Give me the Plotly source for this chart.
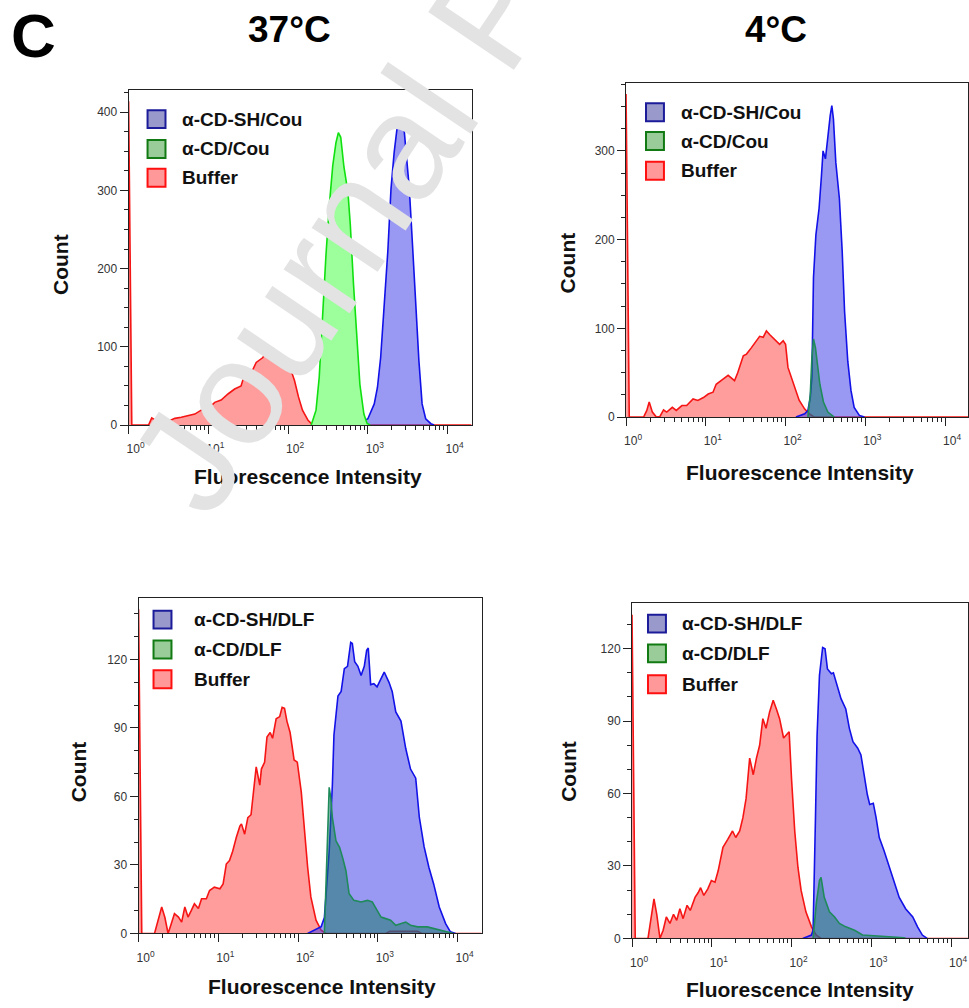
import math
import plotly.graph_objects as go

W, H = 969, 1008

# ---------------- data (x = log10 fluorescence intensity, y = count) ----------------
# Panel 1: 37°C, coumarin
p1_buffer_x = [0.0, 0.04, 0.25, 0.29, 0.34, 0.39, 0.45, 0.52, 0.58, 0.66, 0.75, 0.83, 0.91, 1.0, 1.08, 1.16,
               1.25, 1.33, 1.41, 1.475, 1.54, 1.6, 1.68, 1.75, 1.81, 1.87, 1.93, 1.99, 2.04, 2.08, 2.13, 2.18,
               2.25, 2.31, 4.3]
p1_buffer_y = [414, 0, 0, 9, 6, 0, 2.5, 6, 8.5, 10, 12, 14, 19, 21, 29, 32, 40, 46, 50, 72, 67, 80, 86, 95, 98,
               93, 84, 74, 69, 57, 36, 19, 6, 0, 0]
p1_cd_x = [2.29, 2.35, 2.39, 2.43, 2.475, 2.52, 2.56, 2.6, 2.63, 2.66, 2.70, 2.75, 2.78, 2.82, 2.86, 2.90, 2.95,
           2.99, 3.03]
p1_cd_y = [0, 19, 61, 137, 218, 285, 332, 361, 374, 368, 330, 298, 256, 180, 112, 52, 14, 2, 0]
p1_sh_x = [2.55, 2.62, 2.79, 2.95, 3.0, 3.04, 3.08, 3.12, 3.16, 3.2, 3.25, 3.29, 3.33, 3.37, 3.41, 3.45, 3.475,
           3.52, 3.56, 3.6, 3.64, 3.68, 3.725, 3.79, 3.83]
p1_sh_y = [0, 1.7, 2.5, 5, 8, 16.5, 27, 48, 86, 146, 222, 302, 349, 383, 393, 383, 357, 302, 230, 154, 82, 27, 8,
           1.7, 0]

# Panel 2: 4°C, coumarin
p2_buffer_x = [0.0, 0.04, 0.22, 0.26, 0.29, 0.33, 0.38, 0.425, 0.47, 0.51, 0.58, 0.63, 0.70, 0.76, 0.84, 0.90,
               0.97, 1.03, 1.09, 1.13, 1.22, 1.28, 1.36, 1.40, 1.47, 1.51, 1.57, 1.63, 1.675, 1.72, 1.76, 1.80,
               1.86, 1.925, 1.97, 2.0, 2.03, 2.07, 2.11, 2.17, 2.24, 2.3, 2.36, 4.29]
p2_buffer_y = [364, 0, 0, 7.5, 17, 5.6, 0, 0.7, 8, 5.6, 11, 7.5, 13, 13, 20.5, 18.7, 22, 26, 28, 37, 43, 47, 41,
               50, 69, 71, 78, 86, 91, 90, 97, 93, 88, 82, 86, 82, 56, 45, 34, 19, 9, 3.7, 0, 0]
p2_cd_x = [2.28, 2.31, 2.33, 2.35, 2.375, 2.40, 2.43, 2.475, 2.53, 2.61]
p2_cd_y = [0, 26, 67, 88, 78, 56, 37, 17, 5.6, 0]
p2_sh_x = [2.13, 2.24, 2.28, 2.31, 2.33, 2.34, 2.35, 2.38, 2.42, 2.45, 2.47, 2.50, 2.53, 2.56, 2.58, 2.60, 2.63,
           2.675, 2.71, 2.74, 2.78, 2.82, 2.86, 2.925, 2.99]
p2_sh_y = [0, 3.7, 7.5, 22, 45, 86, 157, 205, 235, 272, 300, 291, 317, 340, 351, 336, 287, 246, 187, 119, 63, 30,
           11, 1.9, 0]

# Panel 3: 37°C, DLF
p3_buffer_x = [0.0, 0.04, 0.2, 0.25, 0.29, 0.33, 0.37, 0.41, 0.45, 0.5, 0.54, 0.58, 0.62, 0.66, 0.70, 0.75, 0.79,
               0.85, 0.89, 0.95, 1.02, 1.06, 1.1, 1.14, 1.18, 1.225, 1.27, 1.29, 1.33, 1.37, 1.41, 1.45, 1.475,
               1.52, 1.54, 1.58, 1.61, 1.65, 1.68, 1.725, 1.77, 1.8, 1.83, 1.86, 1.9, 1.95, 1.99, 2.04, 2.08,
               2.12, 2.16, 2.225, 2.29, 2.35, 3.1, 3.15, 3.3, 3.5, 3.55, 4.3]
p3_buffer_y = [142, 0, 0, 7, 11.6, 7, 0, 4.3, 8.7, 7.2, 5, 11.6, 7.2, 10, 13, 10.9, 15.2, 15.2, 18.8, 20.3, 19.6,
               21.7, 30.4, 31.9, 36, 42, 47, 48, 43.5, 50.7, 52, 65, 73, 65, 72, 75, 86, 88, 85.5, 94, 95, 99,
               98.6, 93, 88, 76, 75, 62, 45, 29, 16, 5.8, 1.4, 0, 0, 1, 1, 1, 0, 0]
p3_cd_x = [2.33, 2.36, 2.39, 2.41, 2.43, 2.475, 2.52, 2.56, 2.6, 2.64, 2.70, 2.79, 2.87, 2.93, 2.975, 3.04, 3.1,
           3.16, 3.225, 3.29, 3.35, 3.41, 3.5, 3.62, 3.79, 3.89, 3.95]
p3_cd_y = [0, 29, 64, 59.4, 50.7, 40.6, 37.7, 33, 27.5, 17.4, 14.5, 13.8, 14.5, 13.8, 10.9, 7.2, 6.5, 5.8, 3.6,
           4.3, 5, 3.6, 2.9, 2.9, 1.4, 0.7, 0]
p3_sh_x = [2.12, 2.29, 2.33, 2.36, 2.39, 2.43, 2.45, 2.5, 2.54, 2.58, 2.62, 2.66, 2.68, 2.71, 2.75, 2.79, 2.83,
           2.86, 2.88, 2.91, 2.95, 2.99, 3.04, 3.08, 3.14, 3.18, 3.225, 3.29, 3.35, 3.41, 3.475, 3.52, 3.58,
           3.64, 3.70, 3.77, 3.85, 3.91, 3.975]
p3_sh_y = [0, 3, 7, 22, 36, 65, 87, 104, 106, 116, 117, 127.5, 127, 119, 117, 113, 117, 124, 125, 109, 109.4,
           108, 111.6, 114.5, 110, 106, 97, 93, 81, 72, 68, 51, 38, 29, 21.7, 11.6, 4.3, 0.7, 0]

# Panel 4: 4°C, DLF
p4_buffer_x = [0.0, 0.04, 0.2, 0.245, 0.275, 0.31, 0.35, 0.39, 0.43, 0.475, 0.52, 0.56, 0.6, 0.64, 0.69, 0.73,
               0.79, 0.83, 0.86, 0.9, 0.95, 0.995, 1.04, 1.08, 1.14, 1.2, 1.26, 1.3, 1.35, 1.39, 1.43, 1.475,
               1.52, 1.56, 1.6, 1.64, 1.68, 1.725, 1.77, 1.81, 1.85, 1.9, 1.93, 1.97, 2.0, 2.04, 2.08, 2.12,
               2.18, 2.25, 2.31, 2.37, 4.21]
p4_buffer_y = [134, 0, 0, 10, 16.4, 10, 0, 3.4, 8.9, 6.2, 10, 7.5, 12.3, 8.2, 13.7, 11.6, 17, 19, 21, 17.8,
               20.5, 24, 23.3, 28, 37.7, 41, 44.5, 41.8, 44.5, 50, 58, 74.7, 67.8, 74.7, 80, 91, 87, 93.8, 98.6,
               95, 91, 83, 84, 85.6, 66, 44.5, 29.5, 19.9, 11, 4.8, 1.4, 0, 0]
p4_cd_x = [2.27, 2.31, 2.35, 2.37, 2.41, 2.475, 2.54, 2.6, 2.68, 2.79, 2.89, 3.1, 3.31, 3.41, 3.43]
p4_cd_y = [0, 14.4, 24, 25.3, 17, 11, 8.9, 6.2, 4.8, 3.4, 1.4, 1, 0.7, 0.3, 0]
p4_sh_x = [2.14, 2.25, 2.27, 2.28, 2.3, 2.32, 2.35, 2.39, 2.42, 2.45, 2.5, 2.525, 2.57, 2.62, 2.68, 2.725, 2.77,
           2.83, 2.87, 2.91, 2.95, 2.98, 3.025, 3.06, 3.1, 3.16, 3.225, 3.29, 3.35, 3.43, 3.52, 3.58, 3.64, 3.7]
p4_sh_y = [0, 1.4, 3.4, 15.8, 50, 84, 109, 120.5, 120, 111.6, 109.6, 110, 104.8, 99.3, 95, 87, 81.5, 78.8, 76,
           67.8, 59.6, 55.5, 56, 50, 41.8, 36.3, 29.5, 22.6, 17, 12.3, 8.9, 4.8, 1.4, 0]

legend_cou = ["α-CD-SH/Cou", "α-CD/Cou", "Buffer"]
legend_dlf = ["α-CD-SH/DLF", "α-CD/DLF", "Buffer"]
col_titles = ["37°C", "4°C"]
panel_letter = "C"
x_tick_labels = ["10<sup>0</sup>", "10<sup>1</sup>", "10<sup>2</sup>", "10<sup>3</sup>", "10<sup>4</sup>"]

# ---------------- styling ----------------
FONT = "Liberation Sans, Arial, sans-serif"
RED_LINE, RED_FILL = "#f51515", "#ff9c9c"
BLUE_LINE, BLUE_FILL = "#1212e8", "rgba(60,60,232,0.52)"
GREEN1_LINE, GREEN1_FILL = "#10e010", "#9cff9c"
GREEN_LINE, GREEN_FILL = "#1f8a5a", "rgba(20,120,100,0.5)"


def px(x):
    return x / W


def py(y):
    return 1 - y / H


panels = [
    dict(dom=(127, 471, 91, 428), xmax=4.3, ymax=428, yt=[0, 100, 200, 300, 400], ym=25,
         data=[(p1_buffer_x, p1_buffer_y, RED_LINE, RED_FILL),
               (p1_sh_x, p1_sh_y, BLUE_LINE, BLUE_FILL),
               (p1_cd_x, p1_cd_y, GREEN1_LINE, GREEN1_FILL)],
         leg=legend_cou, sw=(146, [120, 150, 179]), tx=179,
         count=(58, 266), fi=(307, 480)),
    dict(dom=(626, 969, 84, 420), xmax=343 / 80, ymax=376, yt=[0, 100, 200, 300], ym=25,
         data=[(p2_buffer_x, p2_buffer_y, RED_LINE, RED_FILL),
               (p2_sh_x, p2_sh_y, BLUE_LINE, BLUE_FILL),
               (p2_cd_x, p2_cd_y, GREEN_LINE, GREEN_FILL)],
         leg=legend_cou, sw=(646, [113, 142, 172]), tx=679,
         count=(567, 265), fi=(800, 476)),
    dict(dom=(137, 481, 602, 940), xmax=4.3, ymax=147, yt=[0, 30, 60, 90, 120], ym=10,
         data=[(p3_buffer_x, p3_buffer_y, RED_LINE, RED_FILL),
               (p3_sh_x, p3_sh_y, BLUE_LINE, BLUE_FILL),
               (p3_cd_x, p3_cd_y, GREEN_LINE, GREEN_FILL)],
         leg=legend_dlf, sw=(152, [624, 654, 684]), tx=191,
         count=(77, 777), fi=(321, 993)),
    dict(dom=(632, 969, 607, 945), xmax=337 / 80, ymax=139, yt=[0, 30, 60, 90, 120], ym=10,
         data=[(p4_buffer_x, p4_buffer_y, RED_LINE, RED_FILL),
               (p4_sh_x, p4_sh_y, BLUE_LINE, BLUE_FILL),
               (p4_cd_x, p4_cd_y, GREEN_LINE, GREEN_FILL)],
         leg=legend_dlf, sw=(648, [628, 658, 689]), tx=680,
         count=(568, 777), fi=(800, 996)),
]

SW_STYLE = [("#9999cc", "#1c1c9a"), ("#99cc99", "#127a12"), ("#ff9999", "#ff1010")]

fig = go.Figure()
shapes, annotations = [], []
layout_axes = {}

for i, p in enumerate(panels, start=1):
    xa, ya = f"x{i}", f"y{i}"
    for xs, ys, lc, fc in p["data"]:
        fig.add_trace(go.Scatter(x=xs, y=ys, mode="lines", fill="tozeroy", fillcolor=fc,
                                 line=dict(color=lc, width=1.6), xaxis=xa, yaxis=ya,
                                 showlegend=False, hoverinfo="skip"))
    x0, x1, y0, y1 = p["dom"]
    minor_x = [n + math.log10(k) for n in range(0, 5) for k in range(2, 10) if n + math.log10(k) < p["xmax"]]
    common = dict(showline=True, linecolor="#222", linewidth=1, mirror=True, ticks="outside",
                  tickwidth=1, tickcolor="#222", showgrid=False, zeroline=False,
                  tickfont=dict(family=FONT, size=12, color="#333"))
    layout_axes[f"xaxis{i}"] = dict(domain=[px(x0), px(x1)], anchor=ya, range=[0, p["xmax"]],
                                    tickmode="array", tickvals=[0, 1, 2, 3, 4], ticktext=x_tick_labels,
                                    ticklen=8, ticklabelshift=7, ticklabelstandoff=5,
                                    minor=dict(tickmode="array", tickvals=minor_x, ticks="outside",
                                               ticklen=4, tickcolor="#222"),
                                    **common)
    layout_axes[f"yaxis{i}"] = dict(domain=[py(y1), py(y0)], anchor=xa, range=[0, p["ymax"]],
                                    tickmode="array", tickvals=p["yt"], ticklen=8,
                                    minor=dict(dtick=p["ym"], tick0=0, ticks="outside", ticklen=4,
                                               tickcolor="#222"),
                                    **common)
    # custom legend
    sx, cys = p["sw"]
    for (fc, lc), cy, label in zip(SW_STYLE, cys, p["leg"]):
        shapes.append(dict(type="rect", xref="paper", yref="paper", x0=px(sx), x1=px(sx + 18),
                           y0=py(cy + 9), y1=py(cy - 9), fillcolor=fc, line=dict(color=lc, width=2)))
        annotations.append(dict(text=f"<b>{label}</b>", x=px(p["tx"]), y=py(cy), xref="paper", yref="paper",
                                xanchor="left", yanchor="middle", showarrow=False,
                                font=dict(family=FONT, size=19, color="#111")))
    cx, cy = p["count"]
    annotations.append(dict(text="<b>Count</b>", x=px(cx), y=py(cy), xref="paper", yref="paper",
                            textangle=-90, showarrow=False, xanchor="center", yanchor="middle",
                            font=dict(family=FONT, size=21, color="#111")))
    fx, fy = p["fi"]
    annotations.append(dict(text="<b>Fluorescence Intensity</b>", x=px(fx), y=py(fy), xref="paper",
                            yref="paper", showarrow=False, xanchor="center", yanchor="middle",
                            font=dict(family=FONT, size=21, color="#111")))

annotations.append(dict(text=f"<b>{panel_letter}</b>", x=px(32), y=py(36), xref="paper", yref="paper",
                        showarrow=False, xanchor="center", yanchor="middle",
                        font=dict(family=FONT, size=62, color="#000")))
annotations.append(dict(text=f"<b>{col_titles[0]}</b>", x=px(288), y=py(30), xref="paper", yref="paper",
                        showarrow=False, xanchor="center", yanchor="middle",
                        font=dict(family=FONT, size=37, color="#000")))
annotations.append(dict(text=f"<b>{col_titles[1]}</b>", x=px(776), y=py(30), xref="paper", yref="paper",
                        showarrow=False, xanchor="center", yanchor="middle",
                        font=dict(family=FONT, size=37, color="#000")))
# journal watermark
annotations.append(dict(text="Journal Pre-proof", x=px(489), y=py(13), xref="paper", yref="paper",
                        showarrow=False, xanchor="center", yanchor="middle", textangle=-56,
                        font=dict(family=FONT, size=150, color="#e3e3e3")))

fig.update_layout(width=W, height=H, margin=dict(l=0, r=0, t=0, b=0), plot_bgcolor="white",
                  paper_bgcolor="white", showlegend=False, shapes=shapes, annotations=annotations,
                  **layout_axes)

fig.write_html("out.html", config={"displayModeBar": False},
               post_script="document.body.style.margin='0';document.body.style.padding='0';")
